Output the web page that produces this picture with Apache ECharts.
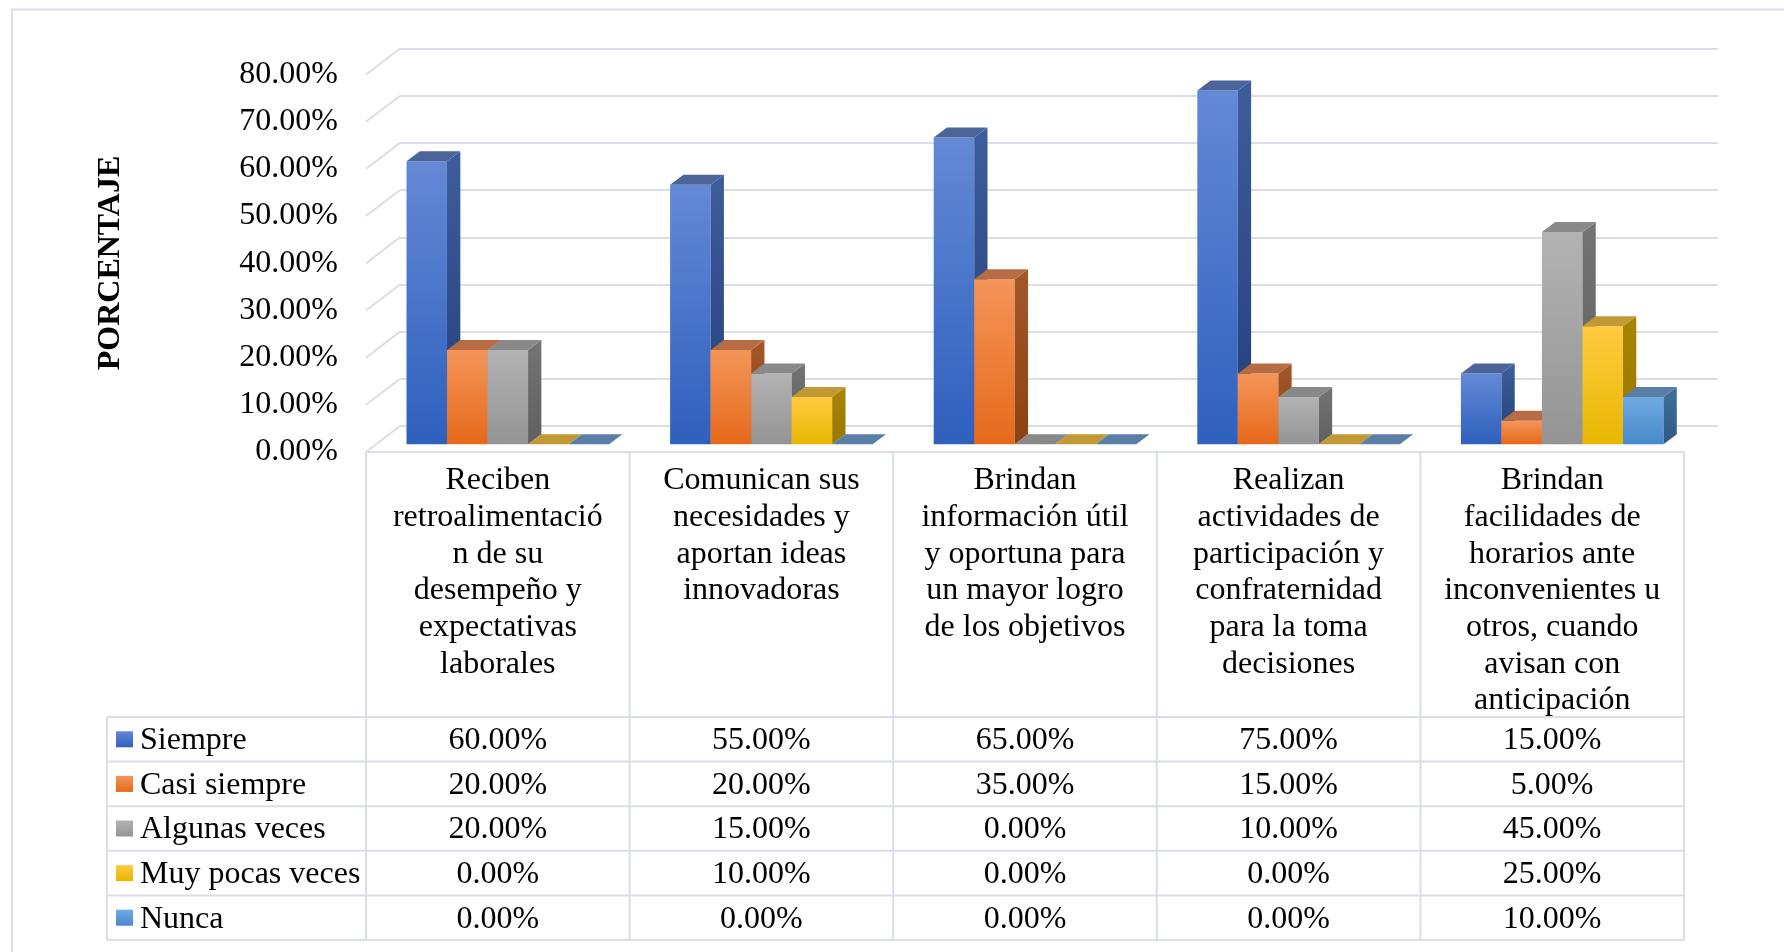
<!DOCTYPE html>
<html style="height: 100%">
<head>
    <meta charset="utf-8">
    <script src="https://cdn.jsdelivr.net/npm/echarts@6/dist/echarts.min.js"></script>
</head>
<body style="height: 100%; margin: 0; background: #fff">
<div id="container" style="height: 100%"></div>

<script type="text/javascript">
    var dom = document.getElementById("container");
    var myChart = echarts.init(dom);

    var categories = [
        'Reciben\nretroalimentació\nn de su\ndesempeño y\nexpectativas\nlaborales',
        'Comunican sus\nnecesidades y\naportan ideas\ninnovadoras',
        'Brindan\ninformación útil\ny oportuna para\nun mayor logro\nde los objetivos',
        'Realizan\nactividades de\nparticipación y\nconfraternidad\npara la toma\ndecisiones',
        'Brindan\nfacilidades de\nhorarios ante\ninconvenientes u\notros, cuando\navisan con\nanticipación'
    ];
    var seriesNames = ['Siempre', 'Casi siempre', 'Algunas veces', 'Muy pocas veces', 'Nunca'];
    var siempre = [0.60, 0.55, 0.65, 0.75, 0.15];
    var casiSiempre = [0.20, 0.20, 0.35, 0.15, 0.05];
    var algunasVeces = [0.20, 0.15, 0.00, 0.10, 0.45];
    var muyPocasVeces = [0.00, 0.10, 0.00, 0.00, 0.25];
    var nunca = [0.00, 0.00, 0.00, 0.00, 0.10];
    var yTicks = [0, 0.1, 0.2, 0.3, 0.4, 0.5, 0.6, 0.7, 0.8];

    var seriesValues = [siempre, casiSiempre, algunasVeces, muyPocasVeces, nunca];

    // front / side gradients and top colour of each 3d column
    var faces = [
        {front: ['#6489d5', '#2e60bd'], side: ['#3d5d9c', '#223f78'], top: '#4b659b'},
        {front: ['#f59559', '#e5691a'], side: ['#a4582a', '#8b4210'], top: '#b86c43'},
        {front: ['#b3b3b3', '#949494'], side: ['#747474', '#5f5f5f'], top: '#898989'},
        {front: ['#ffcb40', '#e8b700'], side: ['#a98500', '#9a7700'], top: '#c29a35'},
        {front: ['#70aae2', '#4689cb'], side: ['#41709b', '#2d5a82'], top: '#5a7fa7'}
    ];

    var FONT = '"Liberation Serif", "Times New Roman", serif';
    var LINE_COLOR = '#dadee7';
    var GRID = {left: 366, top: 74.5, width: 1318, height: 377.5};
    var DEPTH = [34, -26];       // floor depth (front -> back wall)
    var BAR_OFF = [10, -7.7];    // columns stand a bit behind the front edge
    var BAR_DEPTH = [13.3, -10];
    var BAR_FRAC = 0.1537;       // one column width / category band
    var HEAD_BOTTOM = 717;
    var ROW_H = 44.6;
    var LEGEND_LEFT = 107;

    function pct(v) {
        return (v * 100).toFixed(2) + '%';
    }

    function vgrad(c) {
        return new echarts.graphic.LinearGradient(0, 0, 0, 1, [
            {offset: 0, color: c[0]},
            {offset: 1, color: c[1]}
        ]);
    }

    function barRenderer(k) {
        return function (params, api) {
            var cat = api.value(0), val = api.value(1);
            var band = api.size([1, 0])[0];
            var w = band * BAR_FRAC;
            var base = api.coord([cat, 0]);
            var x = base[0] - band / 2 + (band - 5 * w) / 2 + k * w + BAR_OFF[0];
            var yb = base[1] + BAR_OFF[1];
            var yt = api.coord([cat, val])[1] + BAR_OFF[1];
            var dx = BAR_DEPTH[0], dy = BAR_DEPTH[1];
            var f = faces[k];
            var children = [];
            if (yb - yt > 0.5) {
                children.push({
                    type: 'rect',
                    shape: {x: x, y: yt, width: w, height: yb - yt},
                    style: {fill: vgrad(f.front)}
                });
                children.push({
                    type: 'polygon',
                    shape: {points: [[x + w, yt], [x + w + dx, yt + dy], [x + w + dx, yb + dy], [x + w, yb]]},
                    style: {fill: vgrad(f.side)}
                });
            }
            children.push({
                type: 'polygon',
                shape: {points: [[x, yt], [x + dx, yt + dy], [x + w + dx, yt + dy], [x + w, yt]]},
                style: {fill: f.top}
            });
            return {type: 'group', children: children};
        };
    }

    // slanted lines on the left side wall
    function renderSideLine(params, api) {
        var y = api.coord([0, api.value(1)])[1];
        var x = params.coordSys.x;
        return {
            type: 'line',
            shape: {x1: x, y1: y, x2: x + DEPTH[0], y2: y + DEPTH[1]},
            style: {stroke: LINE_COLOR, lineWidth: 2}
        };
    }

    // data table: one column per category, aligned on the x axis
    function renderTableColumn(params, api) {
        var i = api.value(0);
        var band = api.size([1, 0])[0];
        var cx = api.coord([i, 0])[0];
        var x0 = cx - band / 2, x1 = cx + band / 2;
        var yTop = GRID.top + GRID.height;
        var yEnd = HEAD_BOTTOM + ROW_H * seriesNames.length;
        var line = {stroke: LINE_COLOR, lineWidth: 2};
        var ch = [];
        ch.push({type: 'line', shape: {x1: x0, y1: yTop, x2: x1, y2: yTop}, style: line});
        ch.push({type: 'line', shape: {x1: x0, y1: yTop, x2: x0, y2: yEnd}, style: line});
        if (i === categories.length - 1) {
            ch.push({type: 'line', shape: {x1: x1, y1: yTop, x2: x1, y2: yEnd}, style: line});
        }
        for (var r = 0; r <= seriesNames.length; r++) {
            var yy = HEAD_BOTTOM + r * ROW_H;
            ch.push({type: 'line', shape: {x1: x0, y1: yy, x2: x1, y2: yy}, style: line});
        }
        ch.push({
            type: 'text',
            style: {
                text: categories[i], x: cx, y: 462.5,
                align: 'center', verticalAlign: 'top',
                fontFamily: FONT, fontSize: 32, lineHeight: 36.7, fill: '#000'
            }
        });
        for (var s = 0; s < seriesNames.length; s++) {
            ch.push({
                type: 'text',
                style: {
                    text: pct(seriesValues[s][i]), x: cx, y: HEAD_BOTTOM + (s + 0.5) * ROW_H + 1.5,
                    align: 'center', verticalAlign: 'middle',
                    fontFamily: FONT, fontSize: 32, fill: '#000'
                }
            });
        }
        return {type: 'group', children: ch};
    }

    var graphics = [
        {
            type: 'rect', z: -10,
            shape: {x: 12, y: 9.5, width: 1900, height: 1100},
            style: {fill: 'none', stroke: LINE_COLOR, lineWidth: 2}
        },
        {
            type: 'text', x: 111, y: 263, rotation: Math.PI / 2,
            style: {
                text: 'PORCENTAJE', align: 'center', verticalAlign: 'middle',
                fontFamily: FONT, fontWeight: 'bold', fontSize: 32, fill: '#000'
            }
        },
        {
            type: 'line',
            shape: {x1: LEGEND_LEFT, y1: HEAD_BOTTOM, x2: LEGEND_LEFT, y2: HEAD_BOTTOM + ROW_H * seriesNames.length},
            style: {stroke: LINE_COLOR, lineWidth: 2}
        }
    ];
    for (var r = 0; r <= seriesNames.length; r++) {
        graphics.push({
            type: 'line',
            shape: {x1: LEGEND_LEFT, y1: HEAD_BOTTOM + r * ROW_H, x2: GRID.left, y2: HEAD_BOTTOM + r * ROW_H},
            style: {stroke: LINE_COLOR, lineWidth: 2}
        });
    }
    seriesNames.forEach(function (name, s) {
        var cy = HEAD_BOTTOM + (s + 0.5) * ROW_H;
        graphics.push({
            type: 'rect',
            shape: {x: 116, y: cy - 8, width: 17, height: 16},
            style: {fill: vgrad(faces[s].front)}
        });
        graphics.push({
            type: 'text', x: 140, y: cy + 1.5,
            style: {
                text: name, verticalAlign: 'middle',
                fontFamily: FONT, fontSize: 32, fill: '#000'
            }
        });
    });

    var series = [
        {
            type: 'custom', xAxisIndex: 0, yAxisIndex: 0, silent: true, clip: false,
            renderItem: renderSideLine,
            data: yTicks.map(function (v) { return [0, v]; }),
            z: 1
        },
        {
            type: 'custom', xAxisIndex: 0, yAxisIndex: 0, silent: true, clip: false,
            renderItem: renderTableColumn,
            data: categories.map(function (c, i) { return [i, 0]; }),
            z: 1
        }
    ];
    seriesNames.forEach(function (name, k) {
        series.push({
            name: name,
            type: 'custom',
            xAxisIndex: 0, yAxisIndex: 0, clip: false,
            renderItem: barRenderer(k),
            data: seriesValues[k].map(function (v, i) { return [i, v]; }),
            z: 2 + k
        });
    });

    option = {
        animation: false,
        backgroundColor: '#fff',
        grid: [
            {left: GRID.left, top: GRID.top, width: GRID.width, height: GRID.height, outerBoundsMode: 'none'},
            {left: GRID.left + DEPTH[0], top: GRID.top + DEPTH[1], width: GRID.width, height: GRID.height, outerBoundsMode: 'none'}
        ],
        xAxis: [
            {
                type: 'category', gridIndex: 0, data: categories,
                axisLine: {show: false}, axisTick: {show: false}, axisLabel: {show: false}, splitLine: {show: false}
            },
            {
                type: 'category', gridIndex: 1, data: categories,
                axisLine: {show: false}, axisTick: {show: false}, axisLabel: {show: false}, splitLine: {show: false}
            }
        ],
        yAxis: [
            {
                type: 'value', gridIndex: 0, min: 0, max: 0.8, interval: 0.1,
                axisLine: {show: false}, axisTick: {show: false}, splitLine: {show: false},
                axisLabel: {
                    formatter: pct, margin: 28, color: '#000',
                    fontFamily: FONT, fontSize: 32, padding: [5, 0, 0, 0]
                }
            },
            {
                type: 'value', gridIndex: 1, min: 0, max: 0.8, interval: 0.1,
                axisLine: {show: false}, axisTick: {show: false}, axisLabel: {show: false},
                splitLine: {show: true, lineStyle: {color: LINE_COLOR, width: 2}}
            }
        ],
        graphic: graphics,
        series: series
    };

    if (option && typeof option === "object") {
        myChart.setOption(option, true);
    }
</script>
</body>
</html>
